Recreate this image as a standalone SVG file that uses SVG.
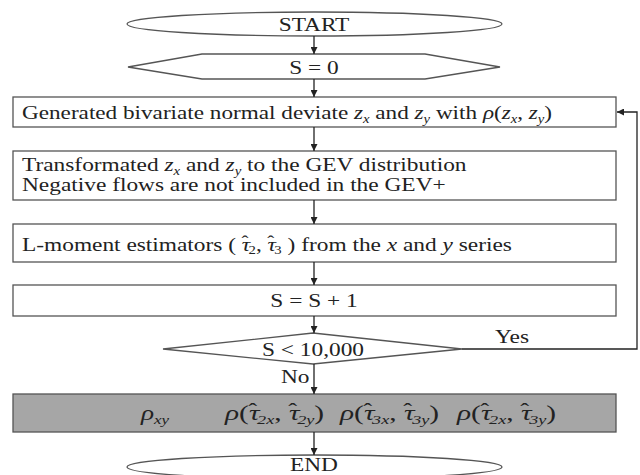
<svg xmlns="http://www.w3.org/2000/svg" width="640" height="475" viewBox="0 0 640 475">
<defs>
<style>
.s{fill:#fff;stroke:#555;stroke-width:1.3}
.g{fill:#a6a6a6;stroke:#555;stroke-width:1.3}
.c{fill:none;stroke:#222;stroke-width:1.3}
text{font-family:"Liberation Serif","Times New Roman",serif;font-size:19px;fill:#222}
.m{text-anchor:middle}
.i{font-style:italic}
.sub{font-size:12px;font-style:italic}
.sb{font-size:12px}
.h{font-size:17px}
.mt{font-size:21px}
.mt .sub{font-size:13px}
.mt .h{font-size:19px}
</style>
<marker id="ah" viewBox="0 0 10 10" refX="10" refY="5" markerWidth="7" markerHeight="7" markerUnits="userSpaceOnUse" orient="auto"><path d="M0,0 L10,5 L0,10 z" fill="#222"/></marker>
</defs>
<g id="start"><rect class="s" x="127" y="12" width="375" height="24" rx="187" ry="12"/><text class="m" transform="translate(314,31) scale(1.23,1)">START</text></g>
<g id="init"><polygon class="s" points="128,67 202,54 425,54 500,67 425,79 202,79"/><text class="m" transform="translate(314,73.5) scale(1.23,1)">S = 0</text></g>
<g id="gen"><rect class="s" x="13" y="97" width="603" height="30"/><text transform="translate(22,118.5) scale(1.22,1)">Generated bivariate normal deviate <tspan class="i">z</tspan><tspan class="sub" dy="4">x</tspan><tspan dy="-4"> and </tspan><tspan class="i">z</tspan><tspan class="sub" dy="4">y</tspan><tspan dy="-4"> with </tspan><tspan class="i">ρ</tspan>(<tspan class="i">z</tspan><tspan class="sub" dy="4">x</tspan><tspan dy="-4">, </tspan><tspan class="i">z</tspan><tspan class="sub" dy="4">y</tspan><tspan dy="-4">)</tspan></text></g>
<g id="transform"><rect class="s" x="13" y="151" width="603" height="49"/><text transform="translate(22,171) scale(1.23,1)">Transformated <tspan class="i">z</tspan><tspan class="sub" dy="4">x</tspan><tspan dy="-4"> and </tspan><tspan class="i">z</tspan><tspan class="sub" dy="4">y</tspan><tspan dy="-4"> to the GEV distribution</tspan></text><text transform="translate(22,191) scale(1.23,1)">Negative flows are not included in the GEV+</text></g>
<g id="lmom"><rect class="s" x="13" y="224" width="603" height="38"/><text transform="translate(22,251) scale(1.23,1)">L-moment estimators ( <tspan class="i">τ</tspan><tspan class="h" dx="-7" dy="-4">ˆ</tspan><tspan class="sb" dy="7">2</tspan><tspan dy="-3">, </tspan><tspan class="i">τ</tspan><tspan class="h" dx="-7" dy="-4">ˆ</tspan><tspan class="sb" dy="7">3</tspan><tspan dy="-3"> ) from the </tspan><tspan class="i">x</tspan> and <tspan class="i">y</tspan> series</text></g>
<g id="inc"><rect class="s" x="13" y="285" width="603" height="31"/><text class="m" transform="translate(314,307) scale(1.23,1)">S = S + 1</text></g>
<g id="cond"><polygon class="s" points="163,349 313,333 462,349 313,364"/><text class="m" transform="translate(313,356) scale(1.23,1)">S &lt; 10,000</text></g>
<g id="result"><rect class="g" x="13" y="394" width="603" height="38"/>
<text class="mt" transform="translate(141,420) scale(1.3,1)"><tspan class="i">ρ</tspan><tspan class="sub" dy="4">xy</tspan></text>
<text class="mt" transform="translate(225,420) scale(1.4,1)"><tspan class="i">ρ</tspan>(<tspan class="i">τ</tspan><tspan class="h" dx="-8" dy="-4">ˆ</tspan><tspan class="sub" dy="8">2x</tspan><tspan dy="-4">, </tspan><tspan class="i">τ</tspan><tspan class="h" dx="-8" dy="-4">ˆ</tspan><tspan class="sub" dy="8">2y</tspan><tspan dy="-4">)</tspan></text>
<text class="mt" transform="translate(340,420) scale(1.4,1)"><tspan class="i">ρ</tspan>(<tspan class="i">τ</tspan><tspan class="h" dx="-8" dy="-4">ˆ</tspan><tspan class="sub" dy="8">3x</tspan><tspan dy="-4">, </tspan><tspan class="i">τ</tspan><tspan class="h" dx="-8" dy="-4">ˆ</tspan><tspan class="sub" dy="8">3y</tspan><tspan dy="-4">)</tspan></text>
<text class="mt" transform="translate(457,420) scale(1.4,1)"><tspan class="i">ρ</tspan>(<tspan class="i">τ</tspan><tspan class="h" dx="-8" dy="-4">ˆ</tspan><tspan class="sub" dy="8">2x</tspan><tspan dy="-4">, </tspan><tspan class="i">τ</tspan><tspan class="h" dx="-8" dy="-4">ˆ</tspan><tspan class="sub" dy="8">3y</tspan><tspan dy="-4">)</tspan></text></g>
<g id="end"><rect class="s" x="127" y="455" width="375" height="24" rx="187" ry="12"/><text class="m" transform="translate(314,471) scale(1.23,1)">END</text></g>
<g id="connectors">
<line class="c" x1="314" y1="36" x2="314" y2="54" marker-end="url(#ah)"/>
<line class="c" x1="314" y1="79" x2="314" y2="97" marker-end="url(#ah)"/>
<line class="c" x1="314" y1="127" x2="314" y2="151" marker-end="url(#ah)"/>
<line class="c" x1="314" y1="200" x2="314" y2="224" marker-end="url(#ah)"/>
<line class="c" x1="314" y1="262" x2="314" y2="285" marker-end="url(#ah)"/>
<line class="c" x1="314" y1="316" x2="314" y2="333" marker-end="url(#ah)"/>
<line class="c" x1="314" y1="364" x2="314" y2="394" marker-end="url(#ah)"/>
<line class="c" x1="314" y1="432" x2="314" y2="455" marker-end="url(#ah)"/>
<polyline class="c" points="462,349 637,349 637,112 617,112" marker-end="url(#ah)"/>
<text transform="translate(495,343) scale(1.23,1)">Yes</text>
<text transform="translate(281,383) scale(1.23,1)">No</text>
</g>
</svg>
